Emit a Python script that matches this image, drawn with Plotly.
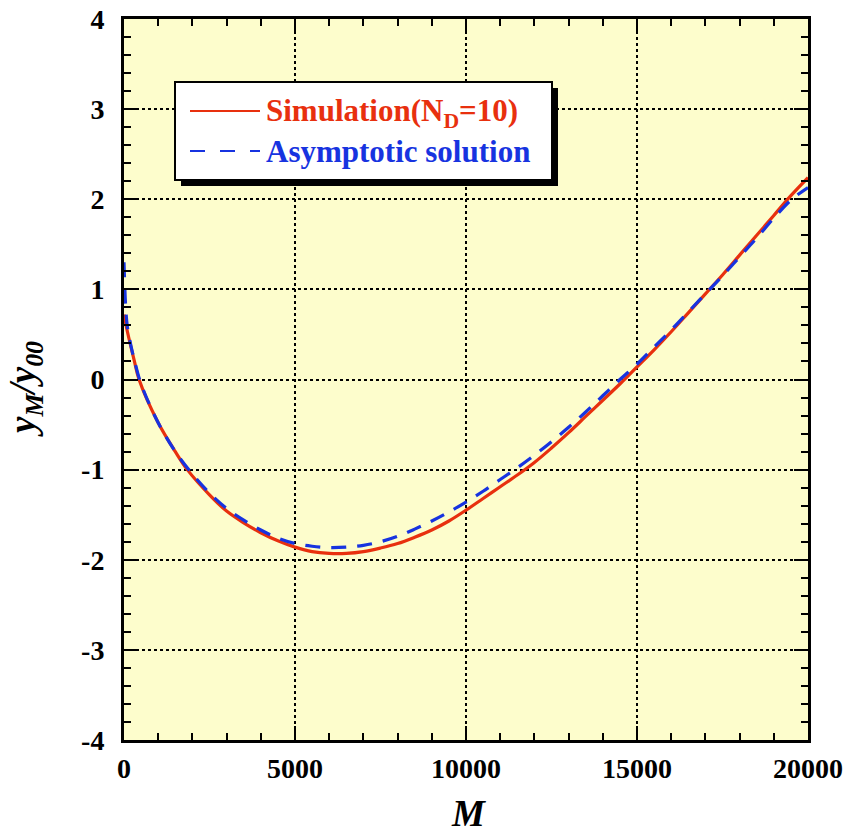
import plotly.graph_objects as go

# ---- data ----
M_sim = [0, 100, 300, 440, 1000, 1500, 1850, 2500, 3000, 3500, 4000, 4500, 5000, 5500,
         6000, 6500, 7000, 7500, 8000, 8500, 9000, 9500, 10000, 10500, 11000, 11500,
         12000, 12500, 13000, 13500, 14000, 14500, 15000, 15500, 16000, 16500, 17000,
         17500, 18000, 18500, 19000, 19500, 20000]
y_sim = [0.72, 0.53, 0.21, 0.0, -0.48, -0.80, -1.0, -1.28, -1.46, -1.59, -1.70, -1.79, -1.86, -1.91,
         -1.93, -1.93, -1.91, -1.87, -1.82, -1.75, -1.67, -1.57, -1.45, -1.32, -1.19, -1.06,
         -0.92, -0.76, -0.59, -0.41, -0.23, -0.05, 0.14, 0.33, 0.53, 0.74, 0.95,
         1.16, 1.38, 1.60, 1.82, 2.04, 2.24]

M_asy = [0, 50, 100, 200, 300, 500, 1000, 1500, 2000, 2500, 3000, 3500, 4000, 4500, 5000,
         5500, 6000, 6500, 7000, 7500, 8000, 8500, 9000, 9500, 10000, 10500, 11000, 11500,
         12000, 12500, 13000, 13500, 14000, 14500, 15000, 15500, 16000, 16500, 17000,
         17500, 18000, 18500, 19000, 19500, 20000]
y_asy = [1.3, 0.8, 0.58, 0.38, 0.22, -0.05, -0.48, -0.80, -1.05, -1.26, -1.43, -1.56, -1.67, -1.76, -1.82,
         -1.85, -1.865, -1.86, -1.84, -1.80, -1.74, -1.66, -1.57, -1.47, -1.36, -1.24, -1.11, -0.98,
         -0.84, -0.69, -0.53, -0.36, -0.18, 0.0, 0.17, 0.36, 0.55, 0.75, 0.95,
         1.15, 1.36, 1.57, 1.79, 1.99, 2.13]

x_ticks = [0, 5000, 10000, 15000, 20000]
y_ticks = [-4, -3, -2, -1, 0, 1, 2, 3, 4]

RED = "#E8300E"
BLUE = "#1733E0"
FONT = "Liberation Serif, Times New Roman, serif"

W, H = 846, 834
L, R, T, B = 124, 808, 19, 740  # plot box in page pixels


def px(x):
    return (x - L) / (R - L)


def py(y):
    return (B - y) / (B - T)


fig = go.Figure()
fig.add_trace(go.Scatter(x=M_sim, y=y_sim, mode="lines", line=dict(color=RED, width=3.2, shape="spline"),
                         name="Simulation(N<sub>D</sub>=10)", showlegend=False))
fig.add_trace(go.Scatter(x=M_asy, y=y_asy, mode="lines",
                         line=dict(color=BLUE, width=3.2, dash="15px,11px", shape="spline"),
                         name="Asymptotic solution", showlegend=False))

axis_common = dict(
    showline=True, linecolor="black", linewidth=3, mirror="allticks",
    ticks="inside", tickcolor="black", tickwidth=2, ticklen=14,
    showgrid=True, gridcolor="black", gridwidth=2, griddash="dot",
    zeroline=False, automargin=False, ticklabeloverflow="allow",
    tickfont=dict(family=FONT, size=28, color="black"),
)

fig.update_xaxes(range=[0, 20000], tickvals=x_ticks, ticktext=["<b>%d</b>" % v for v in x_ticks],
                 minor=dict(dtick=1000, ticks="inside", ticklen=7, tickwidth=2, tickcolor="black", showgrid=False),
                 ticklabelstandoff=1,
                 **axis_common)
fig.update_yaxes(range=[-4, 4], tickvals=y_ticks, ticktext=["<b>%d</b>" % v for v in y_ticks],
                 minor=dict(dtick=0.2, ticks="inside", ticklen=7, tickwidth=2, tickcolor="black", showgrid=False),
                 ticklabelstandoff=11,
                 **axis_common)

# ---- legend box (drawn by hand for exact look) ----
bx0, by0, bx1, by1 = 175, 82, 552, 180
shapes = [
    dict(type="rect", xref="paper", yref="paper", x0=px(bx0 + 6), x1=px(bx1 + 6), y0=py(by1 + 6), y1=py(by0 + 6),
         fillcolor="black", line=dict(width=0), layer="above"),
    dict(type="rect", xref="paper", yref="paper", x0=px(bx0), x1=px(bx1), y0=py(by1), y1=py(by0),
         fillcolor="white", line=dict(color="black", width=2), layer="above"),
    dict(type="line", xref="paper", yref="paper", x0=px(190), x1=px(260), y0=py(111), y1=py(111),
         line=dict(color=RED, width=2), layer="above"),
    dict(type="line", xref="paper", yref="paper", x0=px(190), x1=px(260), y0=py(151), y1=py(151),
         line=dict(color=BLUE, width=2, dash="15px,15px"), layer="above"),
]
annotations = [
    dict(text="<b>Simulation(N<sub>D</sub>=10)</b>", xref="paper", yref="paper", x=px(264), y=py(113),
         xanchor="left", yanchor="middle", showarrow=False, font=dict(family=FONT, size=31, color=RED)),
    dict(text="<b>Asymptotic solution</b>", xref="paper", yref="paper", x=px(264), y=py(151),
         xanchor="left", yanchor="middle", showarrow=False, font=dict(family=FONT, size=31, color=BLUE)),
    # axis titles
    dict(text="<b><i>M</i></b>", xref="paper", yref="paper", x=px(468), y=py(813),
         xanchor="center", yanchor="middle", showarrow=False, font=dict(family=FONT, size=37, color="black")),
    dict(text="<b><i>y<sub>M</sub>/y<sub>00</sub></i></b>", xref="paper", yref="paper", x=px(25), y=py(389),
         xanchor="center", yanchor="middle", textangle=-90, showarrow=False,
         font=dict(family=FONT, size=37, color="black")),
]

fig.update_layout(
    width=W, height=H,
    margin=dict(l=L, r=W - R, t=T, b=H - B),
    paper_bgcolor="white", plot_bgcolor="#FDFDCC",
    shapes=shapes, annotations=annotations,
    showlegend=False,
)

fig.write_html("out.html", config={"displayModeBar": False},
               post_script="document.body.style.margin='0px';document.body.style.overflow='hidden';")
